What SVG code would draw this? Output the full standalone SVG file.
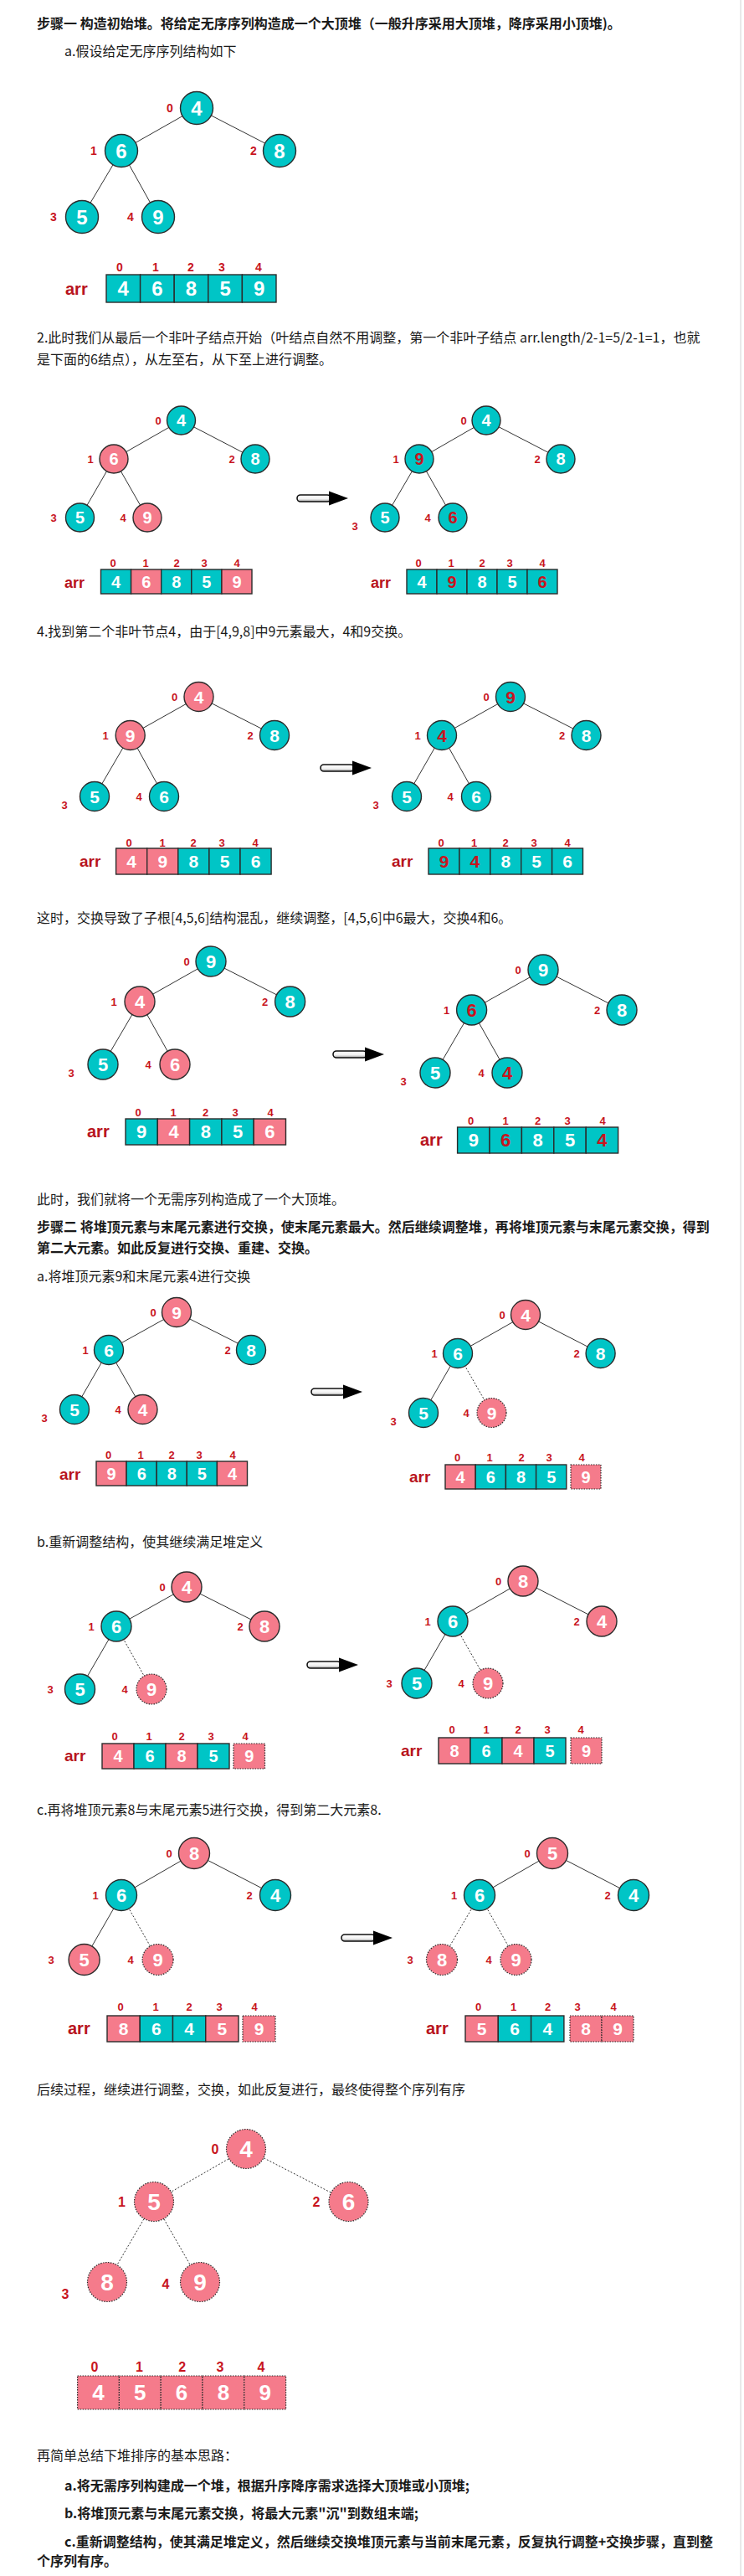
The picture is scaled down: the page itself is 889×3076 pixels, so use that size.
<svg xmlns="http://www.w3.org/2000/svg" width="889" height="3076" viewBox="0 0 889 3076">
<defs>
<style>
.txt{font-family:"Noto Sans CJK SC","Noto Sans",sans-serif;font-size:16px;fill:#1a1a1a}
.bold{font-weight:bold}
.t{fill:#00c5c6;stroke:#2b2b2b;stroke-width:1.4}
.p{fill:#f57b8b;stroke:#2b2b2b;stroke-width:1.4}
.pd{fill:#f57b8b;stroke:#2b2b2b;stroke-width:1.2;stroke-dasharray:1.5 1.5}
.e{stroke:#333;stroke-width:1;fill:none}
.ed{stroke:#333;stroke-width:1;stroke-dasharray:2 2;fill:none}
.v{font-family:"Liberation Sans",Arial,sans-serif;font-weight:bold;fill:#fff;text-anchor:middle}
.r{fill:#c8141e}
.ix{font-family:"Liberation Sans",Arial,sans-serif;font-weight:bold;fill:#c8141e;text-anchor:middle;font-size:13px}
.ix14{font-size:14px}
.ix16{font-size:16px}
.arr{font-family:"Liberation Sans",Arial,sans-serif;font-weight:bold;fill:#b81420}
</style>
<linearGradient id="shaft" x1="0" y1="0" x2="0" y2="1"><stop offset="0" stop-color="#ffffff"/><stop offset="0.6" stop-color="#f2f2f2"/><stop offset="1" stop-color="#9a9a9a"/></linearGradient>
<g id="arrow"><rect x="1" y="-4" width="40" height="8" rx="4" fill="url(#shaft)" stroke="#111" stroke-width="1.6"/><polygon points="39,-8.5 62,0 39,8.5" fill="#000"/></g>
</defs>
<rect x="0" y="0" width="889" height="3076" fill="#fff"/>
<line x1="885" y1="0" x2="885" y2="3076" stroke="#e2e2e2" stroke-width="1.5"/>

<!-- Section 1 -->
<text class="txt bold" x="44" y="34">步骤一 构造初始堆。将给定无序序列构造成一个大顶堆（一般升序采用大顶堆，降序采用小顶堆)。</text>
<text class="txt" x="77" y="67">a.假设给定无序序列结构如下</text>
<g id="tree1" font-size="24">
<g id="tree1-edges"><line class="e" x1="235" y1="129" x2="145" y2="180"/><line class="e" x1="235" y1="129" x2="334" y2="180"/><line class="e" x1="145" y1="180" x2="98" y2="259"/><line class="e" x1="145" y1="180" x2="189" y2="259"/></g>
<g id="t1n0"><circle class="t" cx="235" cy="129" r="19.5"/><text class="v" x="235" y="137.6">4</text><text class="ix ix14" x="203" y="134">0</text></g>
<g id="t1n1"><circle class="t" cx="145" cy="180" r="19.5"/><text class="v" x="145" y="188.6">6</text><text class="ix ix14" x="112" y="185">1</text></g>
<g id="t1n2"><circle class="t" cx="334" cy="180" r="19.5"/><text class="v" x="334" y="188.6">8</text><text class="ix ix14" x="303" y="185">2</text></g>
<g id="t1n3"><circle class="t" cx="98" cy="259" r="19.5"/><text class="v" x="98" y="267.6">5</text><text class="ix ix14" x="64" y="264">3</text></g>
<g id="t1n4"><circle class="t" cx="189" cy="259" r="19.5"/><text class="v" x="189" y="267.6">9</text><text class="ix ix14" x="156" y="264">4</text></g>
</g>
<g id="arr1" font-size="24">
<text class="arr" x="78" y="352" font-size="20">arr</text>
<rect class="t" x="127" y="328" width="40.6" height="33"/><rect class="t" x="167.6" y="328" width="40.6" height="33"/><rect class="t" x="208.2" y="328" width="40.6" height="33"/><rect class="t" x="248.8" y="328" width="40.6" height="33"/><rect class="t" x="289.4" y="328" width="40.6" height="33"/>
<text class="v" x="147.3" y="353.1">4</text><text class="v" x="187.9" y="353.1">6</text><text class="v" x="228.5" y="353.1">8</text><text class="v" x="269.1" y="353.1">5</text><text class="v" x="309.7" y="353.1">9</text>
<text class="ix ix14" x="143" y="324">0</text><text class="ix ix14" x="186" y="324">1</text><text class="ix ix14" x="228" y="324">2</text><text class="ix ix14" x="265" y="324">3</text><text class="ix ix14" x="309" y="324">4</text>
</g>

<!-- Section 2 -->
<text class="txt" x="44" y="409">2.此时我们从最后一个非叶子结点开始（叶结点自然不用调整，第一个非叶子结点 arr.length/2-1=5/2-1=1，也就</text>
<text class="txt" x="44" y="435">是下面的6结点），从左至右，从下至上进行调整。</text>
<g id="tree2a" font-size="20">
<g id="tree2a-edges"><line class="e" x1="216.5" y1="502" x2="136" y2="548"/><line class="e" x1="216.5" y1="502" x2="305" y2="548"/><line class="e" x1="136" y1="548" x2="95.5" y2="618"/><line class="e" x1="136" y1="548" x2="176" y2="618"/></g>
<g id="t2an0"><circle class="t" cx="216.5" cy="502" r="17"/><text class="v" x="216.5" y="509.2">4</text><text class="ix" x="189" y="506.7">0</text></g>
<g id="t2an1"><circle class="p" cx="136" cy="548" r="17"/><text class="v" x="136" y="555.2">6</text><text class="ix" x="108" y="552.7">1</text></g>
<g id="t2an2"><circle class="t" cx="305" cy="548" r="17"/><text class="v" x="305" y="555.2">8</text><text class="ix" x="277" y="552.7">2</text></g>
<g id="t2an3"><circle class="t" cx="95.5" cy="618" r="17"/><text class="v" x="95.5" y="625.2">5</text><text class="ix" x="64" y="622.7">3</text></g>
<g id="t2an4"><circle class="p" cx="176" cy="618" r="17"/><text class="v" x="176" y="625.2">9</text><text class="ix" x="147" y="622.7">4</text></g>
</g>
<use href="#arrow" transform="translate(354,595)"/>
<g id="tree2b" font-size="20">
<g id="tree2b-edges"><line class="e" x1="581" y1="502" x2="501" y2="548"/><line class="e" x1="581" y1="502" x2="670" y2="548"/><line class="e" x1="501" y1="548" x2="460" y2="618"/><line class="e" x1="501" y1="548" x2="541" y2="618"/></g>
<g id="t2bn0"><circle class="t" cx="581" cy="502" r="17"/><text class="v" x="581" y="509.2">4</text><text class="ix" x="554" y="506.7">0</text></g>
<g id="t2bn1"><circle class="t" cx="501" cy="548" r="17"/><text class="v r" x="501" y="555.2">9</text><text class="ix" x="473" y="552.7">1</text></g>
<g id="t2bn2"><circle class="t" cx="670" cy="548" r="17"/><text class="v" x="670" y="555.2">8</text><text class="ix" x="642" y="552.7">2</text></g>
<g id="t2bn3"><circle class="t" cx="460" cy="618" r="17"/><text class="v" x="460" y="625.2">5</text><text class="ix" x="424" y="632.7">3</text></g>
<g id="t2bn4"><circle class="t" cx="541" cy="618" r="17"/><text class="v r" x="541" y="625.2">6</text><text class="ix" x="511" y="622.7">4</text></g>
</g>
<g id="arr2a" font-size="20">
<text class="arr" x="77" y="702" font-size="18">arr</text>
<rect class="t" x="120.5" y="680" width="36.1" height="29"/><rect class="p" x="156.6" y="680" width="36.1" height="29"/><rect class="t" x="192.7" y="680" width="36.1" height="29"/><rect class="t" x="228.8" y="680" width="36.1" height="29"/><rect class="p" x="264.9" y="680" width="36.1" height="29"/>
<text class="v" x="138.6" y="701.7">4</text><text class="v" x="174.7" y="701.7">6</text><text class="v" x="210.8" y="701.7">8</text><text class="v" x="246.9" y="701.7">5</text><text class="v" x="283" y="701.7">9</text>
<text class="ix" x="135" y="677">0</text><text class="ix" x="174" y="677">1</text><text class="ix" x="211" y="677">2</text><text class="ix" x="244" y="677">3</text><text class="ix" x="283" y="677">4</text>
</g>
<g id="arr2b" font-size="20">
<text class="arr" x="443" y="702" font-size="18">arr</text>
<rect class="t" x="486" y="680" width="36" height="29"/><rect class="t" x="522" y="680" width="36" height="29"/><rect class="t" x="558" y="680" width="36" height="29"/><rect class="t" x="594" y="680" width="36" height="29"/><rect class="t" x="630" y="680" width="36" height="29"/>
<text class="v" x="504" y="701.7">4</text><text class="v r" x="540" y="701.7">9</text><text class="v" x="576" y="701.7">8</text><text class="v" x="612" y="701.7">5</text><text class="v r" x="648" y="701.7">6</text>
<text class="ix" x="500" y="677">0</text><text class="ix" x="539" y="677">1</text><text class="ix" x="576" y="677">2</text><text class="ix" x="609" y="677">3</text><text class="ix" x="648" y="677">4</text>
</g>

<!-- Section 3 -->
<text class="txt" x="44" y="760">4.找到第二个非叶节点4，由于[4,9,8]中9元素最大，4和9交换。</text>
<g id="tree3a" font-size="21">
<g id="tree3a-edges"><line class="e" x1="237.5" y1="832" x2="155.7" y2="878"/><line class="e" x1="237.5" y1="832" x2="328" y2="878"/><line class="e" x1="155.7" y1="878" x2="113" y2="951"/><line class="e" x1="155.7" y1="878" x2="196" y2="951"/></g>
<g id="t3an0"><circle class="p" cx="237.5" cy="832" r="17.5"/><text class="v" x="237.5" y="839.6">4</text><text class="ix" x="208.5" y="836.7">0</text></g>
<g id="t3an1"><circle class="p" cx="155.7" cy="878" r="17.5"/><text class="v" x="155.7" y="885.6">9</text><text class="ix" x="126" y="882.7">1</text></g>
<g id="t3an2"><circle class="t" cx="328" cy="878" r="17.5"/><text class="v" x="328" y="885.6">8</text><text class="ix" x="299" y="882.7">2</text></g>
<g id="t3an3"><circle class="t" cx="113" cy="951" r="17.5"/><text class="v" x="113" y="958.6">5</text><text class="ix" x="77" y="965.7">3</text></g>
<g id="t3an4"><circle class="t" cx="196" cy="951" r="17.5"/><text class="v" x="196" y="958.6">6</text><text class="ix" x="166" y="955.7">4</text></g>
</g>
<use href="#arrow" transform="translate(382,917)"/>
<g id="tree3b" font-size="21">
<g id="tree3b-edges"><line class="e" x1="610" y1="832" x2="528" y2="878"/><line class="e" x1="610" y1="832" x2="700.5" y2="878"/><line class="e" x1="528" y1="878" x2="486" y2="951"/><line class="e" x1="528" y1="878" x2="569" y2="951"/></g>
<g id="t3bn0"><circle class="t" cx="610" cy="832" r="17.5"/><text class="v r" x="610" y="839.6">9</text><text class="ix" x="581" y="836.7">0</text></g>
<g id="t3bn1"><circle class="t" cx="528" cy="878" r="17.5"/><text class="v r" x="528" y="885.6">4</text><text class="ix" x="499" y="882.7">1</text></g>
<g id="t3bn2"><circle class="t" cx="700.5" cy="878" r="17.5"/><text class="v" x="700.5" y="885.6">8</text><text class="ix" x="671.6" y="882.7">2</text></g>
<g id="t3bn3"><circle class="t" cx="486" cy="951" r="17.5"/><text class="v" x="486" y="958.6">5</text><text class="ix" x="449" y="965.7">3</text></g>
<g id="t3bn4"><circle class="t" cx="569" cy="951" r="17.5"/><text class="v" x="569" y="958.6">6</text><text class="ix" x="538" y="955.7">4</text></g>
</g>
<g id="arr3a" font-size="21">
<text class="arr" x="95" y="1035" font-size="19">arr</text>
<rect class="p" x="138.6" y="1013" width="37.1" height="31"/><rect class="p" x="175.7" y="1013" width="37.1" height="31"/><rect class="t" x="212.8" y="1013" width="37.1" height="31"/><rect class="t" x="249.9" y="1013" width="37.1" height="31"/><rect class="t" x="287" y="1013" width="37.1" height="31"/>
<text class="v" x="157.2" y="1036.1">4</text><text class="v" x="194.3" y="1036.1">9</text><text class="v" x="231.4" y="1036.1">8</text><text class="v" x="268.5" y="1036.1">5</text><text class="v" x="305.6" y="1036.1">6</text>
<text class="ix" x="154" y="1010.5">0</text><text class="ix" x="194" y="1010.5">1</text><text class="ix" x="231" y="1010.5">2</text><text class="ix" x="265" y="1010.5">3</text><text class="ix" x="305" y="1010.5">4</text>
</g>
<g id="arr3b" font-size="21">
<text class="arr" x="468" y="1035" font-size="19">arr</text>
<rect class="t" x="512" y="1013" width="36.9" height="31"/><rect class="t" x="548.9" y="1013" width="36.9" height="31"/><rect class="t" x="585.8" y="1013" width="36.9" height="31"/><rect class="t" x="622.7" y="1013" width="36.9" height="31"/><rect class="t" x="659.6" y="1013" width="36.9" height="31"/>
<text class="v r" x="530.5" y="1036.1">9</text><text class="v r" x="567.4" y="1036.1">4</text><text class="v" x="604.3" y="1036.1">8</text><text class="v" x="641.2" y="1036.1">5</text><text class="v" x="678.1" y="1036.1">6</text>
<text class="ix" x="527" y="1010.5">0</text><text class="ix" x="566.5" y="1010.5">1</text><text class="ix" x="604" y="1010.5">2</text><text class="ix" x="638" y="1010.5">3</text><text class="ix" x="678" y="1010.5">4</text>
</g>

<!-- Section 4 -->
<text class="txt" x="44" y="1102">这时，交换导致了子根[4,5,6]结构混乱，继续调整，[4,5,6]中6最大，交换4和6。</text>
<g id="tree4a" font-size="22">
<g id="tree4a-edges"><line class="e" x1="252" y1="1148" x2="167" y2="1196"/><line class="e" x1="252" y1="1148" x2="346.6" y2="1196"/><line class="e" x1="167" y1="1196" x2="123" y2="1271"/><line class="e" x1="167" y1="1196" x2="209" y2="1271"/></g>
<g id="t4an0"><circle class="t" cx="252" cy="1148" r="18"/><text class="v" x="252" y="1155.9">9</text><text class="ix" x="223" y="1152.7">0</text></g>
<g id="t4an1"><circle class="p" cx="167" cy="1196" r="18"/><text class="v" x="167" y="1203.9">4</text><text class="ix" x="136" y="1200.7">1</text></g>
<g id="t4an2"><circle class="t" cx="346.6" cy="1196" r="18"/><text class="v" x="346.6" y="1203.9">8</text><text class="ix" x="316.5" y="1200.7">2</text></g>
<g id="t4an3"><circle class="t" cx="123" cy="1271" r="18"/><text class="v" x="123" y="1278.9">5</text><text class="ix" x="85" y="1285.7">3</text></g>
<g id="t4an4"><circle class="p" cx="209" cy="1271" r="18"/><text class="v" x="209" y="1278.9">6</text><text class="ix" x="177" y="1275.7">4</text></g>
</g>
<use href="#arrow" transform="translate(397,1259)"/>
<g id="tree4b" font-size="22">
<g id="tree4b-edges"><line class="e" x1="649" y1="1158" x2="563.6" y2="1206"/><line class="e" x1="649" y1="1158" x2="743" y2="1206"/><line class="e" x1="563.6" y1="1206" x2="520" y2="1281"/><line class="e" x1="563.6" y1="1206" x2="606" y2="1281"/></g>
<g id="t4bn0"><circle class="t" cx="649" cy="1158" r="18"/><text class="v" x="649" y="1165.9">9</text><text class="ix" x="619" y="1162.7">0</text></g>
<g id="t4bn1"><circle class="t" cx="563.6" cy="1206" r="18"/><text class="v r" x="563.6" y="1213.9">6</text><text class="ix" x="533.5" y="1210.7">1</text></g>
<g id="t4bn2"><circle class="t" cx="743" cy="1206" r="18"/><text class="v" x="743" y="1213.9">8</text><text class="ix" x="713.6" y="1210.7">2</text></g>
<g id="t4bn3"><circle class="t" cx="520" cy="1281" r="18"/><text class="v" x="520" y="1288.9">5</text><text class="ix" x="482" y="1295.7">3</text></g>
<g id="t4bn4"><circle class="t" cx="606" cy="1281" r="18"/><text class="v r" x="606" y="1288.9">4</text><text class="ix" x="575" y="1285.7">4</text></g>
</g>
<g id="arr4a" font-size="22">
<text class="arr" x="104" y="1358" font-size="20">arr</text>
<rect class="t" x="150" y="1336" width="38.3" height="31"/><rect class="p" x="188.3" y="1336" width="38.3" height="31"/><rect class="t" x="226.6" y="1336" width="38.3" height="31"/><rect class="t" x="264.9" y="1336" width="38.3" height="31"/><rect class="p" x="303.2" y="1336" width="38.3" height="31"/>
<text class="v" x="169.2" y="1359.4">9</text><text class="v" x="207.5" y="1359.4">4</text><text class="v" x="245.8" y="1359.4">8</text><text class="v" x="284.1" y="1359.4">5</text><text class="v" x="322.4" y="1359.4">6</text>
<text class="ix" x="165" y="1332.7">0</text><text class="ix" x="207" y="1332.7">1</text><text class="ix" x="245.5" y="1332.7">2</text><text class="ix" x="281" y="1332.7">3</text><text class="ix" x="323" y="1332.7">4</text>
</g>
<g id="arr4b" font-size="22">
<text class="arr" x="502" y="1368" font-size="20">arr</text>
<rect class="t" x="546.6" y="1346" width="38.4" height="31"/><rect class="t" x="585" y="1346" width="38.4" height="31"/><rect class="t" x="623.4" y="1346" width="38.4" height="31"/><rect class="t" x="661.8" y="1346" width="38.4" height="31"/><rect class="t" x="700.2" y="1346" width="38.4" height="31"/>
<text class="v" x="565.8" y="1369.4">9</text><text class="v r" x="604.2" y="1369.4">6</text><text class="v" x="642.6" y="1369.4">8</text><text class="v" x="681" y="1369.4">5</text><text class="v r" x="719.4" y="1369.4">4</text>
<text class="ix" x="562.5" y="1342.7">0</text><text class="ix" x="604" y="1342.7">1</text><text class="ix" x="642.6" y="1342.7">2</text><text class="ix" x="678" y="1342.7">3</text><text class="ix" x="720" y="1342.7">4</text>
</g>

<!-- Section 5 -->
<text class="txt" x="44" y="1438">此时，我们就将一个无需序列构造成了一个大顶堆。</text>
<text class="txt bold" x="44" y="1471">步骤二 将堆顶元素与末尾元素进行交换，使末尾元素最大。然后继续调整堆，再将堆顶元素与末尾元素交换，得到</text>
<text class="txt bold" x="44" y="1496">第二大元素。如此反复进行交换、重建、交换。</text>
<text class="txt" x="44" y="1530">a.将堆顶元素9和末尾元素4进行交换</text>
<g id="tree5a" font-size="21">
<g id="tree5a-edges"><line class="e" x1="211" y1="1567" x2="130" y2="1612"/><line class="e" x1="211" y1="1567" x2="300" y2="1612"/><line class="e" x1="130" y1="1612" x2="89" y2="1683"/><line class="e" x1="130" y1="1612" x2="170.5" y2="1683"/></g>
<g id="t5an0"><circle class="p" cx="211" cy="1567" r="17.5"/><text class="v" x="211" y="1574.6">9</text><text class="ix" x="183" y="1571.7">0</text></g>
<g id="t5an1"><circle class="t" cx="130" cy="1612" r="17.5"/><text class="v" x="130" y="1619.6">6</text><text class="ix" x="102" y="1616.7">1</text></g>
<g id="t5an2"><circle class="t" cx="300" cy="1612" r="17.5"/><text class="v" x="300" y="1619.6">8</text><text class="ix" x="272" y="1616.7">2</text></g>
<g id="t5an3"><circle class="t" cx="89" cy="1683" r="17.5"/><text class="v" x="89" y="1690.6">5</text><text class="ix" x="53" y="1697.7">3</text></g>
<g id="t5an4"><circle class="p" cx="170.5" cy="1683" r="17.5"/><text class="v" x="170.5" y="1690.6">4</text><text class="ix" x="141" y="1687.7">4</text></g>
</g>
<use href="#arrow" transform="translate(371,1662)"/>
<g id="tree5b" font-size="21">
<g id="tree5b-edges"><line class="e" x1="628" y1="1570" x2="547" y2="1616"/><line class="e" x1="628" y1="1570" x2="717.6" y2="1616"/><line class="e" x1="547" y1="1616" x2="506" y2="1687"/><line class="ed" x1="547" y1="1616" x2="587.5" y2="1687"/></g>
<g id="t5bn0"><circle class="p" cx="628" cy="1570" r="17.5"/><text class="v" x="628" y="1577.6">4</text><text class="ix" x="600" y="1574.7">0</text></g>
<g id="t5bn1"><circle class="t" cx="547" cy="1616" r="17.5"/><text class="v" x="547" y="1623.6">6</text><text class="ix" x="519" y="1620.7">1</text></g>
<g id="t5bn2"><circle class="t" cx="717.6" cy="1616" r="17.5"/><text class="v" x="717.6" y="1623.6">8</text><text class="ix" x="689" y="1620.7">2</text></g>
<g id="t5bn3"><circle class="t" cx="506" cy="1687" r="17.5"/><text class="v" x="506" y="1694.6">5</text><text class="ix" x="470" y="1701.7">3</text></g>
<g id="t5bn4"><circle class="pd" cx="587.5" cy="1687" r="17.5"/><text class="v" x="587.5" y="1694.6">9</text><text class="ix" x="557" y="1691.7">4</text></g>
</g>
<g id="arr5a" font-size="20">
<text class="arr" x="71" y="1767" font-size="19">arr</text>
<rect class="p" x="115" y="1745" width="36.1" height="29"/><rect class="t" x="151.1" y="1745" width="36.1" height="29"/><rect class="t" x="187.2" y="1745" width="36.1" height="29"/><rect class="t" x="223.3" y="1745" width="36.1" height="29"/><rect class="p" x="259.4" y="1745" width="36.1" height="29"/>
<text class="v" x="133.1" y="1766.7">9</text><text class="v" x="169.2" y="1766.7">6</text><text class="v" x="205.3" y="1766.7">8</text><text class="v" x="241.4" y="1766.7">5</text><text class="v" x="277.5" y="1766.7">4</text>
<text class="ix" x="129.5" y="1741.7">0</text><text class="ix" x="168" y="1741.7">1</text><text class="ix" x="205" y="1741.7">2</text><text class="ix" x="238" y="1741.7">3</text><text class="ix" x="278" y="1741.7">4</text>
</g>
<g id="arr5b" font-size="20">
<text class="arr" x="489" y="1770" font-size="19">arr</text>
<rect class="p" x="532" y="1749" width="36.2" height="29"/><rect class="t" x="568.2" y="1749" width="36.2" height="29"/><rect class="t" x="604.4" y="1749" width="36.2" height="29"/><rect class="t" x="640.6" y="1749" width="36.2" height="29"/><rect class="pd" x="682" y="1749" width="36" height="29"/>
<text class="v" x="550.1" y="1770.7">4</text><text class="v" x="586.3" y="1770.7">6</text><text class="v" x="622.5" y="1770.7">8</text><text class="v" x="658.7" y="1770.7">5</text><text class="v" x="700" y="1770.7">9</text>
<text class="ix" x="546.6" y="1744.7">0</text><text class="ix" x="585" y="1744.7">1</text><text class="ix" x="623" y="1744.7">2</text><text class="ix" x="656" y="1744.7">3</text><text class="ix" x="695" y="1744.7">4</text>
</g>

<!-- Section 6 -->
<text class="txt" x="44" y="1847">b.重新调整结构，使其继续满足堆定义</text>
<g id="tree6a" font-size="22">
<g id="tree6a-edges"><line class="e" x1="223" y1="1895" x2="139" y2="1942"/><line class="e" x1="223" y1="1895" x2="316" y2="1942"/><line class="e" x1="139" y1="1942" x2="95.5" y2="2017"/><line class="ed" x1="139" y1="1942" x2="181" y2="2017"/></g>
<g id="t6an0"><circle class="p" cx="223" cy="1895" r="18"/><text class="v" x="223" y="1902.9">4</text><text class="ix" x="194" y="1899.7">0</text></g>
<g id="t6an1"><circle class="t" cx="139" cy="1942" r="18"/><text class="v" x="139" y="1949.9">6</text><text class="ix" x="109" y="1946.7">1</text></g>
<g id="t6an2"><circle class="p" cx="316" cy="1942" r="18"/><text class="v" x="316" y="1949.9">8</text><text class="ix" x="287" y="1946.7">2</text></g>
<g id="t6an3"><circle class="t" cx="95.5" cy="2017" r="18"/><text class="v" x="95.5" y="2024.9">5</text><text class="ix" x="60" y="2021.7">3</text></g>
<g id="t6an4"><circle class="pd" cx="181" cy="2017" r="18"/><text class="v" x="181" y="2024.9">9</text><text class="ix" x="149" y="2021.7">4</text></g>
</g>
<use href="#arrow" transform="translate(366,1988)"/>
<g id="tree6b" font-size="22">
<g id="tree6b-edges"><line class="e" x1="625" y1="1888" x2="541" y2="1936"/><line class="e" x1="625" y1="1888" x2="719" y2="1936"/><line class="e" x1="541" y1="1936" x2="498" y2="2010"/><line class="ed" x1="541" y1="1936" x2="583" y2="2010"/></g>
<g id="t6bn0"><circle class="p" cx="625" cy="1888" r="18"/><text class="v" x="625" y="1895.9">8</text><text class="ix" x="595.5" y="1892.7">0</text></g>
<g id="t6bn1"><circle class="t" cx="541" cy="1936" r="18"/><text class="v" x="541" y="1943.9">6</text><text class="ix" x="511" y="1940.7">1</text></g>
<g id="t6bn2"><circle class="p" cx="719" cy="1936" r="18"/><text class="v" x="719" y="1943.9">4</text><text class="ix" x="689" y="1940.7">2</text></g>
<g id="t6bn3"><circle class="t" cx="498" cy="2010" r="18"/><text class="v" x="498" y="2017.9">5</text><text class="ix" x="465" y="2014.7">3</text></g>
<g id="t6bn4"><circle class="pd" cx="583" cy="2010" r="18"/><text class="v" x="583" y="2017.9">9</text><text class="ix" x="551" y="2014.7">4</text></g>
</g>
<g id="arr6a" font-size="20">
<text class="arr" x="77" y="2103" font-size="19">arr</text>
<rect class="p" x="122" y="2082" width="38" height="30"/><rect class="t" x="160" y="2082" width="38" height="30"/><rect class="p" x="198" y="2082" width="38" height="30"/><rect class="t" x="236" y="2082" width="38" height="30"/><rect class="pd" x="279" y="2082" width="37.5" height="30"/>
<text class="v" x="141" y="2104.2">4</text><text class="v" x="179" y="2104.2">6</text><text class="v" x="217" y="2104.2">8</text><text class="v" x="255" y="2104.2">5</text><text class="v" x="297.8" y="2104.2">9</text>
<text class="ix" x="137" y="2077.7">0</text><text class="ix" x="178" y="2077.7">1</text><text class="ix" x="217" y="2077.7">2</text><text class="ix" x="252" y="2077.7">3</text><text class="ix" x="293" y="2077.7">4</text>
</g>
<g id="arr6b" font-size="20">
<text class="arr" x="479" y="2097" font-size="19">arr</text>
<rect class="p" x="524" y="2075" width="38" height="31"/><rect class="t" x="562" y="2075" width="38" height="31"/><rect class="p" x="600" y="2075" width="38" height="31"/><rect class="t" x="638" y="2075" width="38" height="31"/><rect class="pd" x="682" y="2075" width="37" height="31"/>
<text class="v" x="543" y="2097.7">8</text><text class="v" x="581" y="2097.7">6</text><text class="v" x="619" y="2097.7">4</text><text class="v" x="657" y="2097.7">5</text><text class="v" x="700.5" y="2097.7">9</text>
<text class="ix" x="540" y="2069.7">0</text><text class="ix" x="581" y="2069.7">1</text><text class="ix" x="619" y="2069.7">2</text><text class="ix" x="654" y="2069.7">3</text><text class="ix" x="694" y="2069.7">4</text>
</g>

<!-- Section 7 -->
<text class="txt" x="44" y="2167">c.再将堆顶元素8与末尾元素5进行交换，得到第二大元素8.</text>
<g id="tree7a" font-size="22">
<g id="tree7a-edges"><line class="e" x1="232" y1="2213" x2="145" y2="2263"/><line class="e" x1="232" y1="2213" x2="329" y2="2263"/><line class="e" x1="145" y1="2263" x2="100.6" y2="2340"/><line class="ed" x1="145" y1="2263" x2="188.6" y2="2340"/></g>
<g id="t7an0"><circle class="p" cx="232" cy="2213" r="18.5"/><text class="v" x="232" y="2220.9">8</text><text class="ix" x="202" y="2217.7">0</text></g>
<g id="t7an1"><circle class="t" cx="145" cy="2263" r="18.5"/><text class="v" x="145" y="2270.9">6</text><text class="ix" x="114" y="2267.7">1</text></g>
<g id="t7an2"><circle class="t" cx="329" cy="2263" r="18.5"/><text class="v" x="329" y="2270.9">4</text><text class="ix" x="298" y="2267.7">2</text></g>
<g id="t7an3"><circle class="p" cx="100.6" cy="2340" r="18.5"/><text class="v" x="100.6" y="2347.9">5</text><text class="ix" x="61" y="2344.7">3</text></g>
<g id="t7an4"><circle class="pd" cx="188.6" cy="2340" r="18.5"/><text class="v" x="188.6" y="2347.9">9</text><text class="ix" x="156" y="2344.7">4</text></g>
</g>
<use href="#arrow" transform="translate(407,2314)"/>
<g id="tree7b" font-size="22">
<g id="tree7b-edges"><line class="e" x1="660" y1="2213" x2="573" y2="2263"/><line class="e" x1="660" y1="2213" x2="757" y2="2263"/><line class="ed" x1="573" y1="2263" x2="528" y2="2340"/><line class="ed" x1="573" y1="2263" x2="616.5" y2="2340"/></g>
<g id="t7bn0"><circle class="p" cx="660" cy="2213" r="18.5"/><text class="v" x="660" y="2220.9">5</text><text class="ix" x="630" y="2217.7">0</text></g>
<g id="t7bn1"><circle class="t" cx="573" cy="2263" r="18.5"/><text class="v" x="573" y="2270.9">6</text><text class="ix" x="542.6" y="2267.7">1</text></g>
<g id="t7bn2"><circle class="t" cx="757" cy="2263" r="18.5"/><text class="v" x="757" y="2270.9">4</text><text class="ix" x="726" y="2267.7">2</text></g>
<g id="t7bn3"><circle class="pd" cx="528" cy="2340" r="18.5"/><text class="v" x="528" y="2347.9">8</text><text class="ix" x="490" y="2344.7">3</text></g>
<g id="t7bn4"><circle class="pd" cx="616.5" cy="2340" r="18.5"/><text class="v" x="616.5" y="2347.9">9</text><text class="ix" x="584" y="2344.7">4</text></g>
</g>
<g id="arr7a" font-size="21">
<text class="arr" x="81" y="2429" font-size="20">arr</text>
<rect class="p" x="128" y="2407" width="39.25" height="31"/><rect class="t" x="167.25" y="2407" width="39.25" height="31"/><rect class="t" x="206.5" y="2407" width="39.25" height="31"/><rect class="p" x="245.75" y="2407" width="39.25" height="31"/><rect class="pd" x="290" y="2407" width="39" height="31"/>
<text class="v" x="147.6" y="2430.1">8</text><text class="v" x="186.9" y="2430.1">6</text><text class="v" x="226.1" y="2430.1">4</text><text class="v" x="265.4" y="2430.1">5</text><text class="v" x="309.5" y="2430.1">9</text>
<text class="ix" x="144" y="2400.7">0</text><text class="ix" x="186" y="2400.7">1</text><text class="ix" x="226" y="2400.7">2</text><text class="ix" x="262" y="2400.7">3</text><text class="ix" x="304" y="2400.7">4</text>
</g>
<g id="arr7b" font-size="21">
<text class="arr" x="509" y="2429" font-size="20">arr</text>
<rect class="p" x="556" y="2407" width="39.3" height="31"/><rect class="t" x="595.3" y="2407" width="39.3" height="31"/><rect class="t" x="634.6" y="2407" width="39.3" height="31"/><rect class="pd" x="681" y="2407" width="38" height="31"/><rect class="pd" x="719" y="2407" width="38" height="31"/>
<text class="v" x="575.7" y="2430.1">5</text><text class="v" x="615" y="2430.1">6</text><text class="v" x="654.3" y="2430.1">4</text><text class="v" x="700" y="2430.1">8</text><text class="v" x="738" y="2430.1">9</text>
<text class="ix" x="571.6" y="2400.7">0</text><text class="ix" x="613.6" y="2400.7">1</text><text class="ix" x="654.5" y="2400.7">2</text><text class="ix" x="690" y="2400.7">3</text><text class="ix" x="733" y="2400.7">4</text>
</g>

<!-- Section 8 -->
<text class="txt" x="44" y="2501">后续过程，继续进行调整，交换，如此反复进行，最终使得整个序列有序</text>
<g id="tree8" font-size="28">
<g id="tree8-edges"><line class="ed" x1="294" y1="2566" x2="184" y2="2629"/><line class="ed" x1="294" y1="2566" x2="416.5" y2="2629"/><line class="ed" x1="184" y1="2629" x2="128" y2="2725"/><line class="ed" x1="184" y1="2629" x2="239" y2="2725"/></g>
<g id="t8n0"><circle class="pd" cx="294" cy="2566" r="23.5"/><text class="v" x="294" y="2576">4</text><text class="ix ix16" x="257" y="2571.8">0</text></g>
<g id="t8n1"><circle class="pd" cx="184" cy="2629" r="23.5"/><text class="v" x="184" y="2639">5</text><text class="ix ix16" x="145.5" y="2634.8">1</text></g>
<g id="t8n2"><circle class="pd" cx="416.5" cy="2629" r="23.5"/><text class="v" x="416.5" y="2639">6</text><text class="ix ix16" x="378" y="2634.8">2</text></g>
<g id="t8n3"><circle class="pd" cx="128" cy="2725" r="23.5"/><text class="v" x="128" y="2735">8</text><text class="ix ix16" x="78" y="2744.8">3</text></g>
<g id="t8n4"><circle class="pd" cx="239" cy="2725" r="23.5"/><text class="v" x="239" y="2735">9</text><text class="ix ix16" x="198" y="2732.8">4</text></g>
</g>
<g id="arr8" font-size="26">
<rect class="pd" x="92.6" y="2837" width="49.8" height="40"/><rect class="pd" x="142.4" y="2837" width="49.8" height="40"/><rect class="pd" x="192.2" y="2837" width="49.8" height="40"/><rect class="pd" x="242" y="2837" width="49.8" height="40"/><rect class="pd" x="291.8" y="2837" width="49.8" height="40"/>
<text class="v" x="117.5" y="2866.4">4</text><text class="v" x="167.3" y="2866.4">5</text><text class="v" x="217.1" y="2866.4">6</text><text class="v" x="266.9" y="2866.4">8</text><text class="v" x="316.7" y="2866.4">9</text>
<text class="ix ix16" x="113" y="2831.8">0</text><text class="ix ix16" x="166.5" y="2831.8">1</text><text class="ix ix16" x="217.6" y="2831.8">2</text><text class="ix ix16" x="263" y="2831.8">3</text><text class="ix ix16" x="312" y="2831.8">4</text>
</g>

<!-- Summary -->
<text class="txt" x="44" y="2938">再简单总结下堆排序的基本思路：</text>
<text class="txt bold" x="77" y="2974">a.将无需序列构建成一个堆，根据升序降序需求选择大顶堆或小顶堆;</text>
<text class="txt bold" x="77" y="3007">b.将堆顶元素与末尾元素交换，将最大元素"沉"到数组末端;</text>
<text class="txt bold" x="77" y="3041">c.重新调整结构，使其满足堆定义，然后继续交换堆顶元素与当前末尾元素，反复执行调整+交换步骤，直到整</text>
<text class="txt bold" x="44" y="3064">个序列有序。</text>
</svg>
